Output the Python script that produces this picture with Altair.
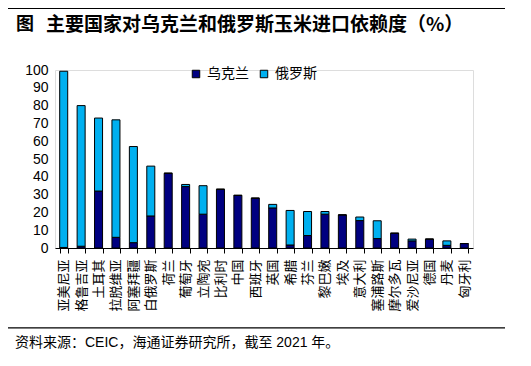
import altair as alt
import pandas as pd

countries = ["亚美尼亚", "格鲁吉亚", "土耳其", "拉脱维亚", "阿塞拜疆", "白俄罗斯", "荷兰", "葡萄牙",
             "立陶宛", "比利时", "中国", "西班牙", "英国", "希腊", "芬兰", "黎巴嫩", "埃及", "意大利",
             "塞浦路斯", "摩尔多瓦", "爱沙尼亚", "德国", "丹麦", "匈牙利"]
ukraine = [0.3, 1, 32, 6, 3, 18, 42, 34.5, 19, 33, 29.5, 28, 22.5, 1.7, 7, 19, 18.6, 15.4,
           5.3, 8.3, 4, 5, 1.5, 2.5]
russia = [99, 79, 41, 66, 54, 28, 0, 1.2, 16, 0, 0.2, 0, 2, 19.4, 13.5, 1.5, 0, 2,
          10, 0, 1, 0, 2.5, 0]
series = ["乌克兰", "俄罗斯"]
colors = ["#000080", "#00B0F0"]
y_ticks = [0, 10, 20, 30, 40, 50, 60, 70, 80, 90, 100]

title_fig = "图"
title_text = "主要国家对乌克兰和俄罗斯玉米进口依赖度（%）"
source_text = "资料来源：CEIC，海通证券研究所，截至 2021 年。"

rows = []
for i, c in enumerate(countries):
    rows.append({"country": c, "series": series[0], "value": ukraine[i], "ord": 0})
    rows.append({"country": c, "series": series[1], "value": russia[i], "ord": 1})
df = pd.DataFrame(rows)

CJK = "Noto Sans CJK SC"
LAT = "Liberation Sans"

bars = alt.Chart(df).mark_bar(stroke="black", strokeWidth=1).encode(
    x=alt.X("country:N", sort=countries,
            scale=alt.Scale(paddingInner=0.54, paddingOuter=0.27),
            axis=alt.Axis(title=None, labelAngle=270, labelFont=CJK, labelFontSize=13,
                          labelColor="black", labelPadding=6, tickSize=5, tickColor="black",
                          domainColor="black", tickBand="extent", labelOverlap=False,
                          grid=False)),
    y=alt.Y("value:Q", stack="zero",
            scale=alt.Scale(domain=[0, 100], nice=False),
            axis=alt.Axis(title=None, values=y_ticks, labelFont=LAT, labelFontSize=14,
                          labelColor="black", domain=False, ticks=False, grid=False,
                          labelPadding=7)),
    color=alt.Color("series:N", scale=alt.Scale(domain=series, range=colors),
                    legend=alt.Legend(title=None, orient="none", legendX=134, legendY=-3,
                                      direction="horizontal", labelFont=CJK, labelFontSize=14,
                                      labelColor="black", symbolType="square", symbolSize=56,
                                      symbolStrokeColor="black", symbolStrokeWidth=1,
                                      columnPadding=8, labelOffset=4, padding=0)),
    order=alt.Order("ord:Q", sort="ascending"),
)

one = pd.DataFrame({"k": [0]})

t1 = alt.Chart(pd.DataFrame({"t": [title_fig]})).mark_text(
    font=CJK, fontSize=18, fontWeight="bold", align="left", baseline="middle", color="black"
).encode(text="t:N", x=alt.value(-39), y=alt.value(-45.5))

t2 = alt.Chart(pd.DataFrame({"t": [title_text]})).mark_text(
    font=CJK, fontSize=19, fontWeight="bold", align="left", baseline="middle", color="black"
).encode(text="t:N", x=alt.value(-9), y=alt.value(-45.5))

src = alt.Chart(pd.DataFrame({"t": [source_text]})).mark_text(
    font=f"{LAT}, {CJK}", fontSize=14, align="left", baseline="middle", color="black"
).encode(text="t:N", x=alt.value(-40), y=alt.value(273))

top_line = alt.Chart(one).mark_rule(color="black", strokeWidth=1.2).encode(
    x=alt.value(-47), x2=alt.value(450), y=alt.value(-61.5))
bot_line = alt.Chart(one).mark_rule(color="black", strokeWidth=1.2).encode(
    x=alt.value(-47), x2=alt.value(450), y=alt.value(257.8))

chart = alt.layer(bars, t1, t2, src, top_line, bot_line).properties(
    width=418, height=178,
    autosize=alt.AutoSizeParams(type="none"),
    padding={"left": 47, "top": 62, "right": 50, "bottom": 110},
).configure_view(stroke=None).configure(background="white")

chart.save("out.html", embed_options={"renderer": "svg", "actions": False})
